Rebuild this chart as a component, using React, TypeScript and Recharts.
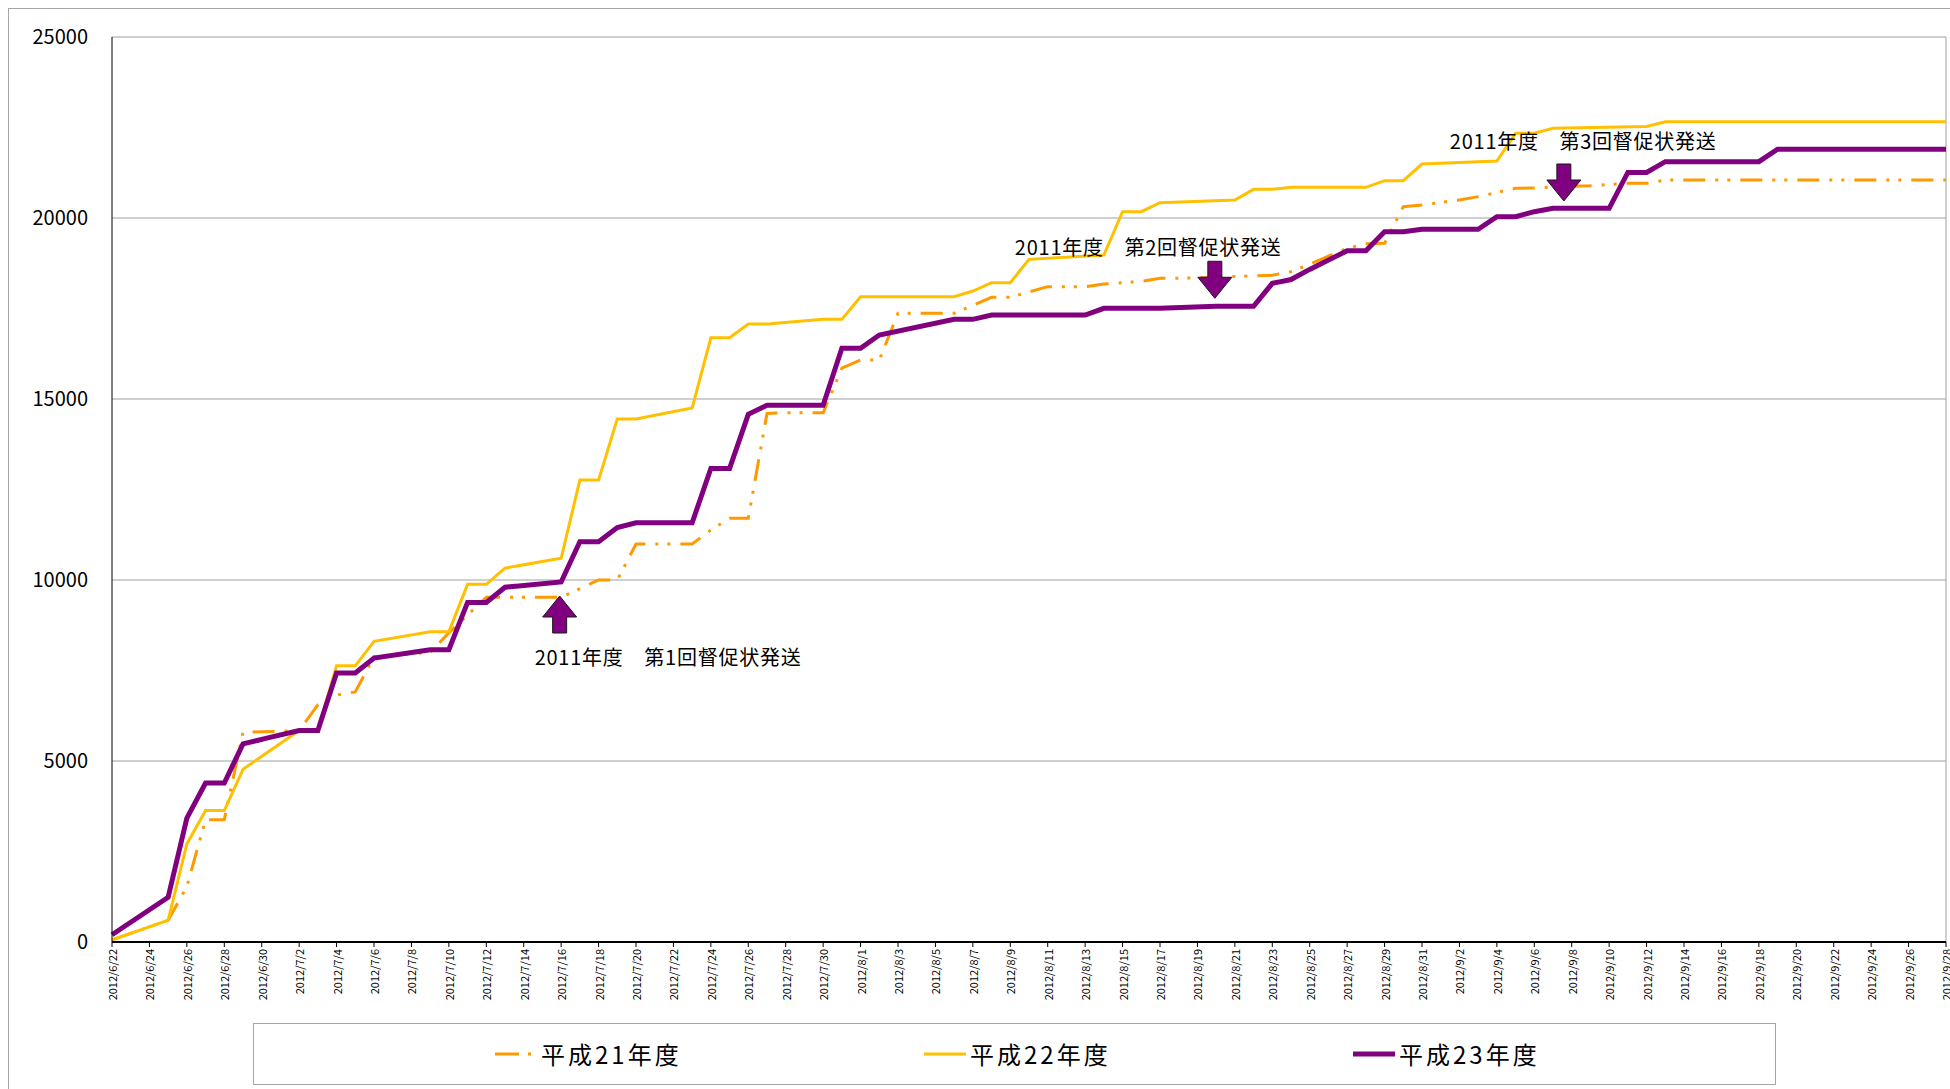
import React from 'react';
import { LineChart, Line, XAxis, YAxis, CartesianGrid, ReferenceLine, ReferenceDot, Legend } from 'recharts';

const FONT = '"Noto Sans CJK JP", "Noto Sans", sans-serif';

const dates = [
  '2012/6/22', '2012/6/23', '2012/6/24', '2012/6/25', '2012/6/26', '2012/6/27', '2012/6/28', '2012/6/29', '2012/6/30',
  '2012/7/1', '2012/7/2', '2012/7/3', '2012/7/4', '2012/7/5', '2012/7/6', '2012/7/7', '2012/7/8', '2012/7/9', '2012/7/10',
  '2012/7/11', '2012/7/12', '2012/7/13', '2012/7/14', '2012/7/15', '2012/7/16', '2012/7/17', '2012/7/18', '2012/7/19', '2012/7/20',
  '2012/7/21', '2012/7/22', '2012/7/23', '2012/7/24', '2012/7/25', '2012/7/26', '2012/7/27', '2012/7/28', '2012/7/29', '2012/7/30',
  '2012/7/31', '2012/8/1', '2012/8/2', '2012/8/3', '2012/8/4', '2012/8/5', '2012/8/6', '2012/8/7', '2012/8/8', '2012/8/9',
  '2012/8/10', '2012/8/11', '2012/8/12', '2012/8/13', '2012/8/14', '2012/8/15', '2012/8/16', '2012/8/17', '2012/8/18', '2012/8/19',
  '2012/8/20', '2012/8/21', '2012/8/22', '2012/8/23', '2012/8/24', '2012/8/25', '2012/8/26', '2012/8/27', '2012/8/28', '2012/8/29',
  '2012/8/30', '2012/8/31', '2012/9/1', '2012/9/2', '2012/9/3', '2012/9/4', '2012/9/5', '2012/9/6', '2012/9/7', '2012/9/8',
  '2012/9/9', '2012/9/10', '2012/9/11', '2012/9/12', '2012/9/13', '2012/9/14', '2012/9/15', '2012/9/16', '2012/9/17', '2012/9/18',
  '2012/9/19', '2012/9/20', '2012/9/21', '2012/9/22', '2012/9/23', '2012/9/24', '2012/9/25', '2012/9/26', '2012/9/27', '2012/9/28',
];

// 平成21年度
const h21: (number | null)[] = [
  60, null, null, 600, 1530, 3380, 3380, 5790, null, null,
  5840, 6550, 6820, 6910, 7880, null, null, 8000, 8540, null,
  9522, 9522, 9522, 9522, 9522, null, 10000, 10000, 10994, 10994,
  10994, 10994, 11381, 11704, 11704, 14600, 14620, 14620, 14620, 15850,
  16077, 16077, 17366, 17366, 17366, 17366, null, 17808, 17808, null,
  18103, 18103, 18103, 18176, 18213, 18250, 18333, 18333, null, null,
  null, 18400, 18420, 18517, 18720, 18950, 19160, 19290, 19300, 20312,
  20359, null, 20500, 20590, null, 20820, 20830, null, 20880, 20890,
  null, 20958, 20958, 21049, 21049, 21049, 21049, 21049, 21049, 21049,
  21049, 21049, 21049, 21049, 21049, 21049, 21049, 21049, 21049,
];

// 平成22年度
const h22: (number | null)[] = [
  60, null, null, 600, 2710, 3630, 3630, 4770, null, null,
  5843, 5843, 7630, 7630, 8305, null, null, 8570, 8570, 9880,
  9880, 10330, null, null, 10600, 12760, 12760, 14450, 14450, null,
  null, 14750, 16690, 16690, 17070, 17070, null, null, 17200, 17200,
  17826, 17826, 17826, 17826, 17826, 17826, 17983, 18213, 18213, 18858,
  null, null, null, 18978, 20175, 20175, 20424, null, null, null,
  20497, 20792, 20792, 20847, 20847, 20847, 20847, 20847, 21031, 21031,
  21491, null, null, null, 21574, 22340, 22340, 22480, null, null,
  null, null, 22530, 22660, 22660, 22660, 22660, 22660, 22660, 22660,
  22660, 22660, 22660, 22660, 22660, 22660, 22660, 22660, 22660,
];

// 平成23年度
const h23: (number | null)[] = [
  200, null, null, 1235, 3420, 4390, 4390, 5475, null, null,
  5843, 5843, 7430, 7430, 7845, null, null, 8074, 8074, 9380,
  9380, 9800, null, null, 9945, 11058, 11058, 11450, 11580, 11580,
  11580, 11580, 13080, 13080, 14577, 14825, 14825, 14825, 14825, 16400,
  16400, 16768, null, null, null, 17200, 17200, 17320, 17320, 17320,
  17320, 17320, 17320, 17505, 17505, 17505, 17505, null, null, 17560,
  17560, 17560, 18195, 18300, 18580, null, 19097, 19097, 19622, 19622,
  19687, 19687, 19687, 19687, 20037, 20037, 20175, 20267, 20267, 20267,
  20267, 21260, 21260, 21556, 21556, 21556, 21556, 21556, 21556, 21900,
  21900, 21900, 21900, 21900, 21900, 21900, 21900, 21900, 21900,
];

const yTicks = [0, 5000, 10000, 15000, 20000, 25000];
const xTicks = dates.map((_, i) => i).filter((i) => i % 2 === 0);

const series = [
  { key: 'h21', name: '平成21年度', color: '#FF9900', width: 3, dash: '22 10 3 9 3 10', legendDash: '24 9 3 9 3 9' },
  { key: 'h22', name: '平成22年度', color: '#FFC000', width: 3, dash: undefined, legendDash: undefined },
  { key: 'h23', name: '平成23年度', color: '#800080', width: 5, dash: undefined, legendDash: undefined },
];

const annotations = [
  { x: 23.92, y: 9558, dir: 'up', text: '2011年度　第1回督促状発送', dx: -25, dy: 60 },
  { x: 58.93, y: 17782, dir: 'down', text: '2011年度　第2回督促状発送', dx: -200, dy: -52 },
  { x: 77.58, y: 20470, dir: 'down', text: '2011年度　第3回督促状発送', dx: -114, dy: -60 },
];

const rows = dates.map((d, i) => ({ i, date: d, h21: h21[i], h22: h22[i], h23: h23[i] }));

const DateTick = (props: any) => {
  const { x, y, payload } = props;
  return (
    <text
      x={x}
      y={y}
      transform={`rotate(-90, ${x}, ${y})`}
      textAnchor="end"
      dominantBaseline="central"
      fontSize={11}
      fill="#000"
      fontFamily={FONT}
    >
      {dates[payload.value]}
    </text>
  );
};

const makeArrow = (a: typeof annotations[number]) => (props: any) => {
  const { cx, cy } = props;
  const s = a.dir === 'up' ? 1 : -1;
  const head = 21;
  const total = 37;
  const hw = 17;
  const sw = 7;
  const pts = [
    [0, 0], [hw, head], [sw, head], [sw, total], [-sw, total], [-sw, head], [-hw, head],
  ].map(([px, py]) => `${cx + px},${cy + s * py}`).join(' ');
  return (
    <g>
      <polygon points={pts} fill="#800080" stroke="#1a1a1a" strokeWidth={1} />
      <text
        x={cx + a.dx}
        y={cy + a.dy}
        fontSize={20}
        fill="#000"
        fontFamily={FONT}
        dominantBaseline="central"
        textAnchor="start"
        textLength={266}
        lengthAdjust="spacing"
      >
        {a.text}
      </text>
    </g>
  );
};

const LegendBox = () => (
  <div
    style={{
      position: 'relative',
      width: 1523,
      height: 62,
      border: '1px solid #a6a6a6',
      boxSizing: 'border-box',
      background: '#fff',
      fontFamily: FONT,
    }}
  >
    {series.map((s, i) => (
      <div
        key={s.key}
        style={{
          position: 'absolute',
          left: 241 + i * 429,
          top: 0,
          height: 60,
          display: 'flex',
          alignItems: 'center',
        }}
      >
        <svg width={42} height={10} style={{ display: 'block' }}>
          <line x1={0} y1={5} x2={42} y2={5} stroke={s.color} strokeWidth={s.width} strokeDasharray={s.legendDash} />
        </svg>
        <span
          style={{
            marginLeft: 4,
            fontSize: 24,
            letterSpacing: 3,
            color: '#000',
            lineHeight: '30px',
            whiteSpace: 'nowrap',
          }}
        >
          {s.name}
        </span>
      </div>
    ))}
  </div>
);

export default function App() {
  return (
    <div
      style={{
        position: 'fixed',
        left: 8,
        top: 8,
        width: 1942,
        height: 1081,
        borderLeft: '1px solid #a6a6a6',
        borderTop: '1px solid #a6a6a6',
        boxSizing: 'border-box',
        background: '#fff',
        overflow: 'hidden',
      }}
    >
      <LineChart
        width={1941}
        height={1080}
        data={rows}
        margin={{ top: 28, right: 4, bottom: 87, left: 43 }}
        style={{ fontFamily: FONT }}
      >
        <CartesianGrid vertical={false} stroke="#a0a0a0" strokeWidth={1} />
        <XAxis
          dataKey="i"
          type="number"
          domain={[0, 98]}
          ticks={xTicks}
          interval={0}
          height={60}
          tickSize={5}
          tickMargin={2}
          tick={<DateTick />}
          axisLine={{ stroke: '#000', strokeWidth: 2 }}
          tickLine={{ stroke: '#000' }}
        />
        <YAxis
          type="number"
          domain={[0, 25000]}
          ticks={yTicks}
          interval={0}
          width={60}
          tickLine={false}
          tickSize={8}
          tickMargin={16}
          axisLine={{ stroke: '#000' }}
          tick={{ fill: '#000', fontSize: 20, fontFamily: FONT }}
        />
        <ReferenceLine x={98} stroke="#a0a0a0" strokeWidth={1} ifOverflow="visible" />
        {series.map((s) => (
          <Line
            key={s.key}
            type="linear"
            dataKey={s.key}
            name={s.name}
            stroke={s.color}
            strokeWidth={s.width}
            strokeDasharray={s.dash}
            dot={false}
            activeDot={false}
            connectNulls
            isAnimationActive={false}
          />
        ))}
        {annotations.map((a, idx) => (
          <ReferenceDot key={idx} x={a.x} y={a.y} r={1} ifOverflow="visible" shape={makeArrow(a)} />
        ))}
        <Legend
          verticalAlign="middle"
          align="center"
          layout="horizontal"
          content={() => <LegendBox />}
          wrapperStyle={{ left: 244, top: 1014, width: 1523, height: 62 }}
        />
      </LineChart>
    </div>
  );
}
